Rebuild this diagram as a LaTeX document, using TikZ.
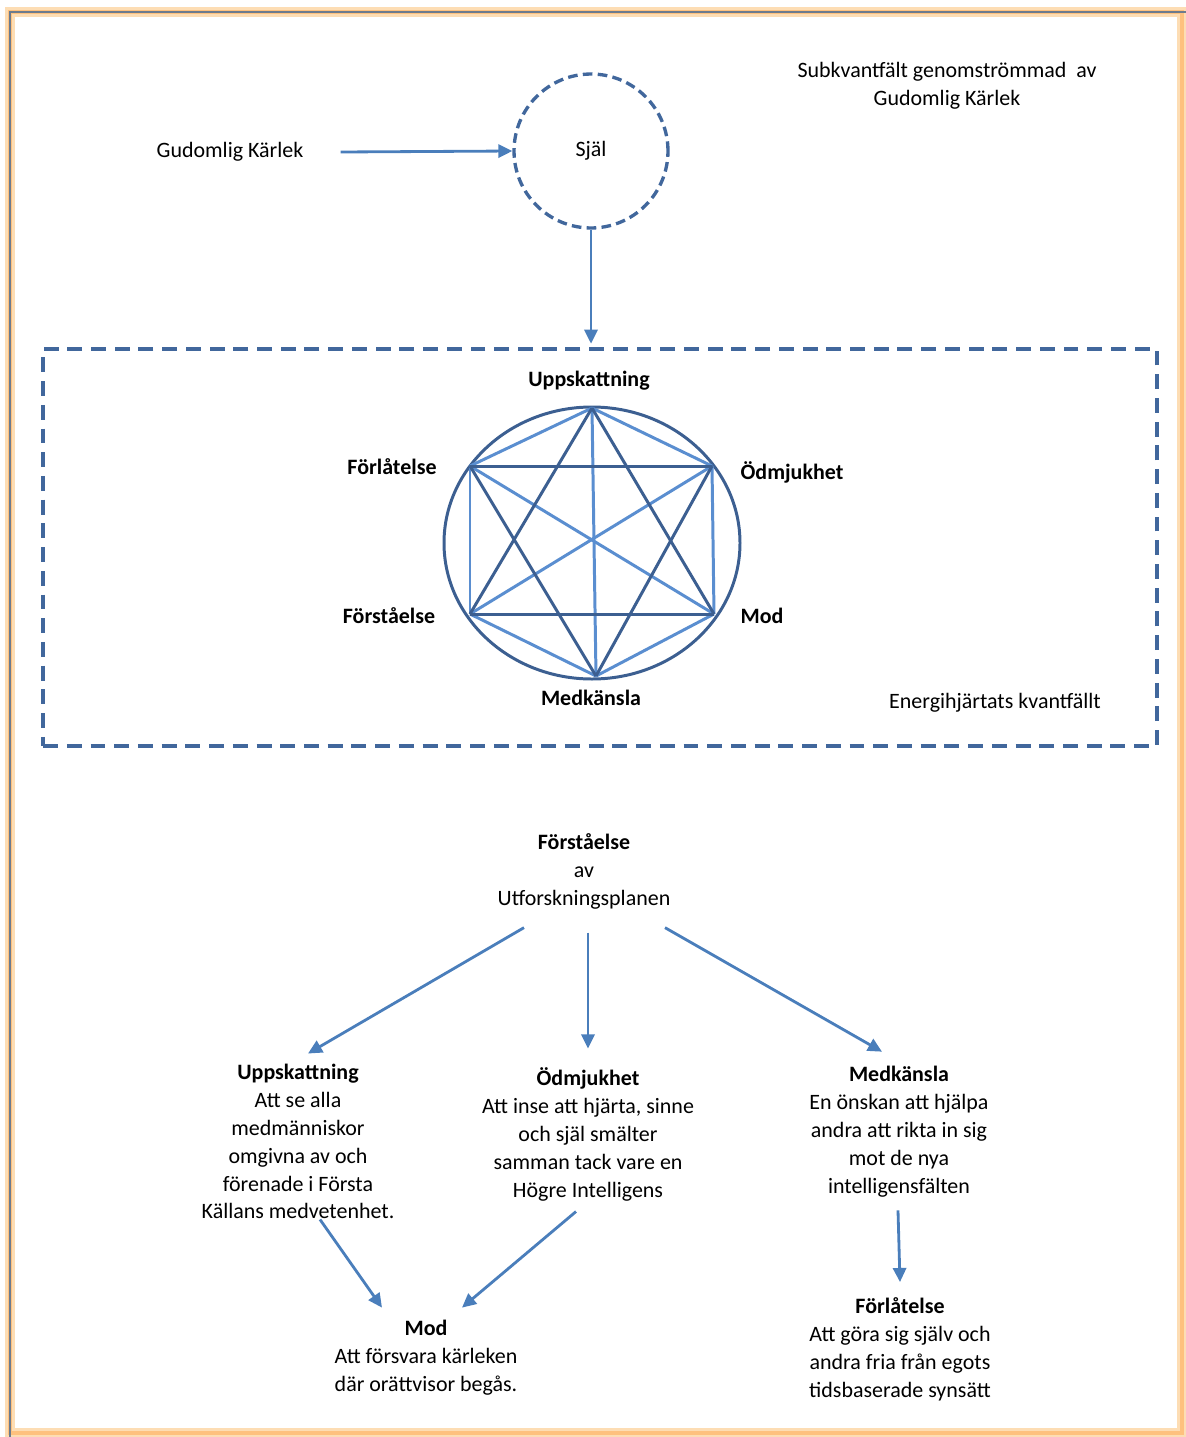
\documentclass[tikz,border=0pt]{standalone}
\usepackage{fontspec}
\setmainfont{Carlito}
\usetikzlibrary{arrows.meta}
\definecolor{arrowblue}{HTML}{4A7EBB}
\definecolor{dashblue}{HTML}{41679C}
\definecolor{darkline}{HTML}{3C5F91}
\definecolor{lightline}{HTML}{5A8ED0}
\definecolor{framegrey}{HTML}{6D7B8D}
\definecolor{glow}{HTML}{FDDDB4}
\tikzset{
  arr/.style={-{Triangle[length=8pt,width=7.5pt]}, arrowblue, line width=1.6pt},
  txt/.style={align=center, inner sep=0pt, font=\fontsize{12.5}{15.9}\selectfont},
  lbl/.style={txt, font=\fontsize{12.5}{15.9}\selectfont\bfseries},
}
\begin{document}
\begin{tikzpicture}[x=0.02cm, y=-0.02cm]
  \useasboundingbox (0,0) rectangle (1186,1437);
  % frame
  \draw[glow, line width=6pt] (10,12) rectangle (1182,1433);
  \draw[glow!70!orange, line width=2pt] (10,12) rectangle (1182,1433);
  \draw[framegrey, line width=1.6pt] (10,1437) -- (10,12) -- (1186,12);

  % top part
  \node[txt] (subkv) at (947,85.5) {Subkvantfält genomströmmad\ \ av\\Gudomlig Kärlek};
  \node[txt] (gk) at (230,152) {Gudomlig Kärlek};
  \node[circle, draw=dashblue, line width=1.9pt, minimum size=3.08cm,
        dash pattern=on 5.5pt off 3pt, txt] (sjal) at (591,151) {Själ};
  \node[draw=dashblue, line width=2.1pt, dash pattern=on 8.5pt off 5pt,
        minimum width=22.28cm, minimum height=7.94cm] (field) at (600,547.5) {};
  \draw[arr] ([xshift=0.74cm]gk.east) -- (sjal.west);
  \draw[arr, shorten >=2pt] (sjal.south) -- (field.north -| sjal.south);
  \node[txt] (energi) at (995,703) {Energihjärtats kvantfällt};

  % hexagram
  \coordinate (v1) at (592,408);
  \coordinate (v2) at (712,466);
  \coordinate (v3) at (714,614);
  \coordinate (v4) at (596,676);
  \coordinate (v5) at (470,614);
  \coordinate (v6) at (470,466);
  \draw[darkline, line width=1.7pt] (592,543) ellipse [x radius=148, y radius=136];
  \foreach \a/\b in {v1/v2,v2/v3,v3/v4,v4/v5,v5/v6,v6/v1,v1/v4,v2/v5,v3/v6}
    \draw[lightline, line width=1.7pt] (\a) -- (\b);
  \foreach \a/\b in {v1/v3,v3/v5,v5/v1,v2/v4,v4/v6,v6/v2}
    \draw[darkline, line width=1.7pt] (\a) -- (\b);
  \node[lbl] (h1) at (589,381) {Uppskattning};
  \node[lbl] (h2) at (792,472) {Ödmjukhet};
  \node[lbl] (h3) at (762,616) {Mod};
  \node[lbl] (h4) at (591,698) {Medkänsla};
  \node[lbl] (h5) at (389,616) {Förståelse};
  \node[lbl] (h6) at (392,467) {Förlåtelse};

  % lower part
  \node[txt] (forst) at (584,871.5) {\textbf{Förståelse}\\av\\Utforskningsplanen};
  \node[txt] (upp) at (298,1141.5) {\textbf{Uppskattning}\\Att se alla\\medmänniskor\\omgivna av och\\förenade i Första\\Källans medvetenhet.};
  \node[txt] (odm) at (588,1134.5) {\textbf{Ödmjukhet}\\Att inse att hjärta, sinne\\och själ smälter\\samman tack vare en\\Högre Intelligens};
  \node[txt] (medk) at (899,1131.5) {\textbf{Medkänsla}\\En önskan att hjälpa\\andra att rikta in sig\\mot de nya\\intelligensfälten};
  \node[txt] (forl) at (900,1349) {\textbf{Förlåtelse}\\Att göra sig själv och\\andra fria från egots\\tidsbaserade synsätt};
  \node[txt] (mod) at (426,1357.5) {\textbf{Mod}\\Att försvara kärleken\\där orättvisor begås.};

  \draw[arr] ([shift={(-60,18)}]forst.south) -- ([shift={(10,-10)}]upp.north);
  \draw[arr] ([shift={(4,23)}]forst.south) -- ([shift={(0,-19)}]odm.north);
  \draw[arr] ([shift={(81,18)}]forst.south) -- ([shift={(-17,-14)}]medk.north);
  \draw[arr] ([shift={(-1,13)}]medk.south) -- ([shift={(0,-15)}]forl.north);
  \draw[arr] ([shift={(22,0)}]upp.south) -- ([shift={(-44,-12)}]mod.north);
  \draw[arr] ([shift={(-12,10)}]odm.south) -- ([shift={(36,-12)}]mod.north);
\end{tikzpicture}
\end{document}
